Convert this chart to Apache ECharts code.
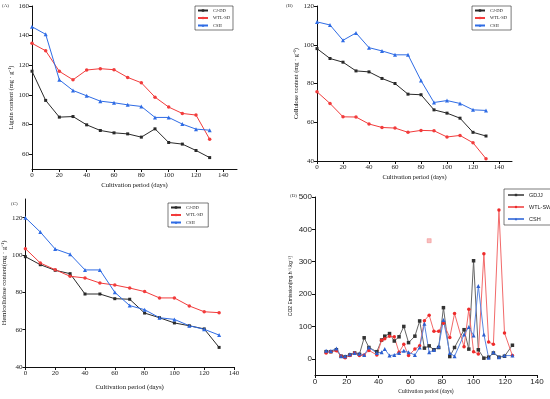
<!DOCTYPE html>
<html><head><meta charset="utf-8">
<script src="https://cdn.jsdelivr.net/npm/echarts@6/dist/echarts.min.js"></script>
<style>html,body{margin:0;padding:0;background:#fff}#c{width:550px;height:399px}</style>
</head><body><div id="c"></div>
<script>
// ---- data ----
const daysABC = [0,10,20,30,40,50,60,70,80,90,100,110,120,130];
const ligninCJDD = [116,96.3,85,85.4,79.8,76,74.4,73.7,71.5,77.1,67.9,66.8,62.5,57.7];
const ligninWTLSD = [134.8,129.8,115.9,110.2,116.8,117.7,117,111.8,108.2,98.5,91.8,87.5,86.4,70.1];
const ligninCSH = [146,140.9,110.2,103,99.4,95.8,94.7,93.3,92.2,84.8,84.8,80.3,76.9,76.2];
const celluCJDD = [98,92.9,91,86.5,86,82.6,80,74.5,74.2,66.4,64.7,62.1,54.8,52.9];
const celluWTLSD = [75.7,69.7,62.8,62.7,59.1,57.3,57,54.8,55.8,55.6,52.4,53.2,49.4,41.2];
const celluCSH = [111.8,110.2,102.3,106.1,98.5,96.8,94.8,94.8,81.5,70.2,71.2,69.7,66.4,66.1];
const hemiCJDD = [99.1,94.8,91.8,90,79.1,79.1,76.6,76.3,68.9,66.4,63.6,62.1,60.4,50.5];
const hemiWTLSD = [103.4,95.7,92.1,88.6,87.7,85,83.9,82.3,80.4,77,77,72.7,69.6,69.1];
const hemiCSH = [120,112.3,103.2,100.4,92,92,80,72.9,70.7,66.4,65.5,62.1,60.2,57.1];
const daysD = [7,10,13.5,16.5,19,22,25,28,31,34,39,42,44,47,50,53,56,59,63,66,69,72,75,78,81,85,88,94,97,100,103,106.5,109.5,112.5,116,119.5,124.5];
const co2GDJJ = [22,22,28,8,6,12,18,14,65,35,22,58,70,78,55,68,100,50,70,117,33,40,28,35,158,7,35,90,30,303,28,2,5,18,5,8,42];
const co2WTLSW = [18,22,25,8,3,10,18,10,12,26,12,57,62,70,68,20,45,10,30,40,118,135,85,85,110,66,140,37,153,22,15,325,52,45,460,80,10];
const co2CSH = [25,24,32,8,8,14,18,16,12,35,18,20,30,10,12,18,25,20,12,35,108,20,27,38,120,18,8,75,98,72,225,75,3,20,5,10,10];
const co2Outlier = [[72,365]];
const xTicksABC = [0,20,40,60,80,100,120,140];
const yTicksA = [60,80,100,120,140,160];
const yTicksB = [40,60,80,100,120];
const yTicksC = [40,60,80,100,120];
const yTicksD = [0,100,200,300,400,500];
const xTicksD = [0,20,40,60,80,100,120,140];

const zip = (xs, ys) => xs.map((x, i) => [x, ys[i]]);
const SERIF = 'Liberation Serif';
const SANS = 'Liberation Sans';
const BLACK = '#2a2a2a', RED = '#f23c3c', BLUE = '#2f6ce5';

function xAxis(gi, max, ticks, name, gap, fs, lblFont, lblSize) {
  return {
    type: 'value', gridIndex: gi, min: 0, max: max, interval: 20,
    name: name, nameLocation: 'middle', nameGap: gap,
    nameTextStyle: {fontFamily: SERIF, fontSize: fs, color: '#111'},
    splitLine: {show: false},
    axisLine: {onZero: false, lineStyle: {color: '#111', width: 1}},
    axisTick: {customValues: ticks, length: 3, lineStyle: {color: '#111'}},
    axisLabel: {customValues: ticks, fontFamily: lblFont, fontSize: lblSize, color: '#222', margin: 3}
  };
}
function yAxis(gi, min, max, interval, ticks, name, gap, fs, lblFont, lblSize, pad) {
  return {
    type: 'value', gridIndex: gi, min: min, max: max, interval: interval,
    name: name, nameLocation: 'middle', nameGap: gap,
    nameTextStyle: {fontFamily: gi === 3 ? SANS : SERIF, fontSize: fs, color: '#111', padding: pad || 0},
    splitLine: {show: false},
    axisLine: {onZero: false, lineStyle: {color: '#111', width: 1}},
    axisTick: {customValues: ticks, length: 3, lineStyle: {color: '#111'}},
    axisLabel: {customValues: ticks, fontFamily: lblFont, fontSize: lblSize, color: '#222', margin: 3}
  };
}
function line(name, gi, data, color, symbol, size, lineColor) {
  return {
    name: name, type: 'line', xAxisIndex: gi, yAxisIndex: gi, data: data,
    symbol: symbol, symbolSize: size, showSymbol: true,
    lineStyle: {color: lineColor || color, width: 1},
    itemStyle: {color: color}, animation: false
  };
}
function legend(names, left, top, fs, font) {
  return {
    data: names, orient: 'vertical', left: left, top: top,
    itemWidth: 10, itemHeight: 3, itemGap: 2.5, padding: [2, 3, 2, 2],
    borderColor: '#222', borderWidth: 0.6,
    textStyle: {fontFamily: font, fontSize: fs, color: '#222'}
  };
}
const lab = (t, x, y, fs) => ({type: 'text', left: x, top: y, style: {text: t, fontFamily: SERIF, fontSize: fs, fill: '#333'}});

const chart = echarts.init(document.getElementById('c'), null, {renderer: 'canvas'});
chart.setOption({
  animation: false,
  backgroundColor: '#fff',
  grid: [
    {left: 32, top: 6, width: 205, height: 163},
    {left: 317, top: 6, width: 195, height: 155},
    {left: 25, top: 199, width: 209, height: 168},
    {left: 315, top: 197, width: 222, height: 178}
  ],
  xAxis: [
    xAxis(0, 150, xTicksABC, 'Cultivation period (days)', 13, 6.6, SERIF, 7),
    xAxis(1, 150, xTicksABC, 'Cultivation period (days)', 13, 6.4, SERIF, 7),
    xAxis(2, 140, xTicksABC, 'Cultivation period (days)', 17, 6.8, SERIF, 7),
    xAxis(3, 140, xTicksD, 'Cultivation period (days)', 14, 5.5, SANS, 8)
  ],
  yAxis: [
    yAxis(0, 50, 160, 20, yTicksA, 'Lignin content (mg · g⁻¹)', 18, 6.4, SERIF, 7, [0, 20, 0, 0]),
    yAxis(1, 40, 120, 20, yTicksB, 'Cellulose content (mg · g⁻¹)', 16, 6.4, SERIF, 7),
    yAxis(2, 40, 130, 20, yTicksC, 'Hemicellulose content(mg · g⁻¹)', 15, 6.6, SERIF, 7),
    yAxis(3, -50, 500, 50, yTicksD, 'CO2 Emission(mg.h⁻¹.kg⁻¹)', 22, 5, SANS, 8)
  ],
  legend: [
    legend(['CJ-DD', 'WTL-SD', 'CSH'], 195, 6, 4.5, SERIF),
    legend(['CJ-DD ', 'WTL-SD ', 'CSH '], 472, 6, 4.5, SERIF),
    legend(['CJ-DD  ', 'WTL-SD  ', 'CSH  '], 168, 203, 4.5, SERIF),
    Object.assign(legend(['GDJJ', 'WTL-SW', 'CSH   '], 504, 189, 5.5, SANS), {itemWidth: 16, itemGap: 6, padding: [3, 8, 3, 3]})
  ],
  graphic: [
    lab('(A)', 2, 3, 5), lab('(B)', 286, 3, 5), lab('(C)', 11, 201, 5), lab('(D)', 290, 193, 5)
  ],
  series: [
    line('CJ-DD', 0, zip(daysABC, ligninCJDD), BLACK, 'rect', 3),
    line('WTL-SD', 0, zip(daysABC, ligninWTLSD), RED, 'circle', 3.5),
    line('CSH', 0, zip(daysABC, ligninCSH), BLUE, 'triangle', 4),
    line('CJ-DD ', 1, zip(daysABC, celluCJDD), BLACK, 'rect', 3),
    line('WTL-SD ', 1, zip(daysABC, celluWTLSD), RED, 'circle', 3.5),
    line('CSH ', 1, zip(daysABC, celluCSH), BLUE, 'triangle', 4),
    line('CJ-DD  ', 2, zip(daysABC, hemiCJDD), BLACK, 'rect', 3),
    line('WTL-SD  ', 2, zip(daysABC, hemiWTLSD), RED, 'circle', 3.5),
    line('CSH  ', 2, zip(daysABC, hemiCSH), BLUE, 'triangle', 4),
    line('GDJJ', 3, zip(daysD, co2GDJJ), '#333', 'rect', 3.5, '#666'),
    line('WTL-SW', 3, zip(daysD, co2WTLSW), '#ee2b2b', 'circle', 3.5, '#f26a6a'),
    line('CSH   ', 3, zip(daysD, co2CSH), '#2d5fcf', 'triangle', 4, '#5a86e0'),
    {type: 'scatter', xAxisIndex: 3, yAxisIndex: 3, data: co2Outlier, symbol: 'rect', symbolSize: 4,
     itemStyle: {color: '#f7b0b0', borderColor: '#f08080', borderWidth: 0.6}, animation: false}
  ]
});
</script>
</body></html>
